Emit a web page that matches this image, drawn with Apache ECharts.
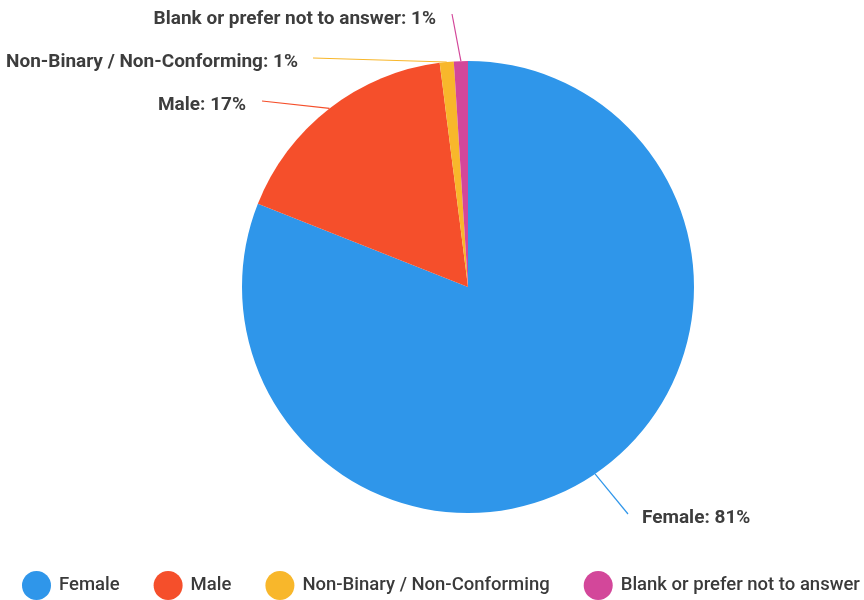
<!DOCTYPE html>
<html>
<head>
<meta charset="utf-8">
<title>Gender</title>
<script src="https://cdn.jsdelivr.net/npm/echarts@6/dist/echarts.min.js"></script>
<style>
  html, body { margin: 0; padding: 0; background: #ffffff; }
  #chart { width: 864px; height: 600px; }
</style>
</head>
<body>
<div id="chart"></div>
<script>
// Survey responses by gender (percent of respondents)
const categories = ['Female', 'Male', 'Non-Binary / Non-Conforming', 'Blank or prefer not to answer'];
const shares = [81, 17, 1, 1];
const colors = ['#2F96EA', '#F54F2B', '#F8B72B', '#D3479A'];

// Where each callout ends (line tip) and how its text sits relative to it
const calloutTips = {
  'Female': { tip: [628, 514], align: 'left', gap: 14, dy: 4 },
  'Male': { tip: [262, 101], align: 'right', gap: 16, dy: 4 },
  'Non-Binary / Non-Conforming': { tip: [313, 58], align: 'right', gap: 15, dy: 4 },
  'Blank or prefer not to answer': { tip: [452, 14], align: 'right', gap: 16, dy: 5 }
};

const chart = echarts.init(document.getElementById('chart'), null, { renderer: 'canvas' });

const seriesData = categories.map((name, i) => ({
  name: name,
  value: shares[i],
  itemStyle: { color: colors[i] }
}));

chart.setOption({
  animation: false,
  backgroundColor: '#ffffff',
  textStyle: { fontFamily: 'Roboto, "Noto Sans", sans-serif' },
  legend: {
    data: categories,
    orient: 'horizontal',
    left: 22,
    top: 571,
    padding: 0,
    itemWidth: 29,
    itemHeight: 29,
    itemGap: 34,
    icon: 'circle',
    selectedMode: false,
    textStyle: {
      fontFamily: 'Roboto, sans-serif',
      fontSize: 18.5,
      fontWeight: 500,
      color: '#3a3a3a',
      padding: [0, 0, 0, 3]
    }
  },
  series: [{
    type: 'pie',
    center: [468, 287],
    radius: 226,
    startAngle: 90,
    clockwise: true,
    avoidLabelOverlap: false,
    percentPrecision: 0,
    data: seriesData,
    itemStyle: { borderWidth: 0 },
    label: {
      show: true,
      position: 'outside',
      formatter: '{b}: {d}%',
      fontFamily: 'Roboto, sans-serif',
      fontSize: 19,
      fontWeight: 'bold',
      color: '#3d3d3d'
    },
    labelLine: {
      show: true,
      length: 30,
      length2: 0,
      smooth: false,
      lineStyle: { width: 1.2 }
    },
    labelLayout: function (params) {
      const name = categories[params.dataIndex];
      const c = calloutTips[name];
      const start = params.labelLinePoints ? params.labelLinePoints[0] : c.tip;
      const tx = c.align === 'left' ? c.tip[0] + c.gap : c.tip[0] - c.gap;
      return {
        x: tx,
        y: c.tip[1] + c.dy,
        align: c.align,
        verticalAlign: 'middle',
        labelLinePoints: [start, c.tip, c.tip]
      };
    },
    emphasis: { disabled: true }
  }]
});
</script>
</body>
</html>
